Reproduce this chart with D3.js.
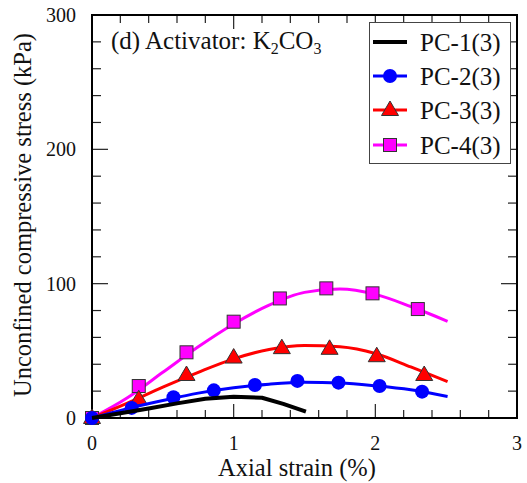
<!DOCTYPE html>
<html><head><meta charset="utf-8">
<script src="https://cdn.jsdelivr.net/npm/d3@7"></script>
<style>body{margin:0;background:#fff}svg{display:block}text{font-family:"Liberation Serif","Times New Roman",serif;fill:#111}</style>
</head><body><svg id="c" width="527" height="483"></svg>
<script>
const xTicks = [0, 1, 2, 3];
const yTicks = [0, 100, 200, 300];
const seriesNames = ["PC-1(3)", "PC-2(3)", "PC-3(3)", "PC-4(3)"];
const seriesColors = ["#000000", "#0000ff", "#ff0000", "#ff00ff"];
const seriesShapes = ["none", "circle", "triangle", "square"];

// fitted curves (strain %, stress kPa)
const pc1Line = [[0,0],[0.2,3.5],[0.4,7],[0.6,10.9],[0.8,14.4],[1.0,15.9],[1.2,15.1],[1.35,10.5],[1.51,4.7]];
const pc2Line = [[0,0],[0.25,7],[0.5,13],[0.75,18.5],[1.0,22.5],[1.25,25.2],[1.5,26.6],[1.75,26.1],[2.0,24],[2.25,21],[2.51,16]];
const pc3Line = [[0,0],[0.25,11],[0.5,23],[0.75,34],[1.0,44],[1.25,51],[1.5,54],[1.75,53],[2.0,48],[2.25,38],[2.51,27]];
const pc4Line = [[0,0],[0.25,15],[0.5,34],[0.75,53],[1.0,70],[1.25,84],[1.5,93.5],[1.75,96],[2.0,92],[2.25,83],[2.51,72]];

// measured points
const pc2Pts = [[0,0],[0.28,7.5],[0.575,15.5],[0.86,20.6],[1.15,24.6],[1.45,27.6],[1.74,26.3],[2.03,23.8],[2.33,19.6]];
const pc3Pts = [[0,0],[0.33,14],[0.667,32],[1.0,45],[1.34,52],[1.677,51.5],[2.01,46],[2.345,32]];
const pc4Pts = [[0,0],[0.33,23.8],[0.667,48.9],[1.0,71.7],[1.326,89],[1.654,96.5],[1.98,92.8],[2.30,81.1]];

const lines = [pc1Line, pc2Line, pc3Line, pc4Line];
const points = [[], pc2Pts, pc3Pts, pc4Pts];

const svg = d3.select("#c");
const L = 92, R = 517, T = 15, B = 418;
const x = d3.scaleLinear().domain([0, 3]).range([L, R]);
const y = d3.scaleLinear().domain([0, 300]).range([B, T]);

// ticks
const g = svg.append("g");
const xMinor = d3.range(0, 3.0001, 0.2);
const yMinor = d3.range(0, 300.001, 20);
const isMajX = v => Math.abs(v - Math.round(v)) < 1e-6;
const isMajY = v => Math.abs(v % 100) < 1e-6;
xMinor.forEach(v => {
  const len = isMajX(v) ? 14 : 8;
  g.append("line").attr("x1", x(v)).attr("x2", x(v)).attr("y1", B).attr("y2", B - len).attr("stroke", "#222").attr("stroke-width", 1.2);
  g.append("line").attr("x1", x(v)).attr("x2", x(v)).attr("y1", T).attr("y2", T + len).attr("stroke", "#222").attr("stroke-width", 1.2);
});
yMinor.forEach(v => {
  const len = isMajY(v) ? 16 : 9;
  g.append("line").attr("y1", y(v)).attr("y2", y(v)).attr("x1", L).attr("x2", L + len).attr("stroke", "#222").attr("stroke-width", 1.2);
  g.append("line").attr("y1", y(v)).attr("y2", y(v)).attr("x1", R).attr("x2", R - len).attr("stroke", "#222").attr("stroke-width", 1.2);
});
g.append("rect").attr("x", L).attr("y", T).attr("width", R - L).attr("height", B - T).attr("fill", "none").attr("stroke", "#000").attr("stroke-width", 2);

// tick labels
xTicks.forEach(v => svg.append("text").attr("x", x(v)).attr("y", 450).attr("text-anchor", "middle").attr("font-size", 20).text(v));
yTicks.forEach(v => svg.append("text").attr("x", 76).attr("y", y(v) + 7).attr("text-anchor", "end").attr("font-size", 20).text(v));

// axis titles
svg.append("text").attr("x", 297).attr("y", 476).attr("text-anchor", "middle").attr("font-size", 24.5).text("Axial strain (%)");
svg.append("text").attr("transform", "translate(31,215) rotate(-90)").attr("text-anchor", "middle").attr("font-size", 24.5).text("Unconfined compressive stress (kPa)");

// annotation
const ann = svg.append("text").attr("x", 111).attr("y", 49).attr("font-size", 25);
ann.append("tspan").text("(d) Activator: K");
ann.append("tspan").attr("font-size", 16).attr("dy", 5).text("2");
ann.append("tspan").attr("dy", -5).text("CO");
ann.append("tspan").attr("font-size", 16).attr("dy", 5).text("3");

// markers
function marker(sel, shape, color, cx, cy) {
  if (shape === "circle") sel.append("circle").attr("cx", cx).attr("cy", cy).attr("r", 7).attr("fill", color);
  else if (shape === "square") sel.append("rect").attr("x", cx - 6.5).attr("y", cy - 6.5).attr("width", 13).attr("height", 13).attr("fill", color).attr("stroke", "#333").attr("stroke-width", 1);
  else if (shape === "triangle") sel.append("path").attr("d", `M${cx},${cy - 9}L${cx + 8.5},${cy + 5.5}L${cx - 8.5},${cy + 5.5}Z`).attr("fill", color).attr("stroke", "#333").attr("stroke-width", 1);
}

const plot = svg.append("g");
[3, 2, 1, 0].forEach(i => {
  const lg = d3.line().x(d => x(d[0])).y(d => y(d[1])).curve(i === 0 ? d3.curveLinear : d3.curveMonotoneX);
  plot.append("path").attr("d", lg(lines[i])).attr("fill", "none").attr("stroke", seriesColors[i]).attr("stroke-width", i === 0 ? 4 : 3).attr("stroke-linejoin", "round");
  points[i].forEach(p => marker(plot, seriesShapes[i], seriesColors[i], x(p[0]), y(p[1])));
});

// legend
const lgd = svg.append("g");
lgd.append("rect").attr("x", 369.5).attr("y", 22.5).attr("width", 141).attr("height", 141).attr("fill", "#fff").attr("stroke", "#444").attr("stroke-width", 1);
const ly = [42, 76, 110, 145];
seriesNames.forEach((n, i) => {
  lgd.append("line").attr("x1", 373).attr("x2", 407).attr("y1", ly[i]).attr("y2", ly[i]).attr("stroke", seriesColors[i]).attr("stroke-width", i === 0 ? 4 : 3);
  marker(lgd, seriesShapes[i], seriesColors[i], 390, ly[i]);
  lgd.append("text").attr("x", 420).attr("y", ly[i] + 9).attr("font-size", 25).text(n);
});
</script></body></html>
